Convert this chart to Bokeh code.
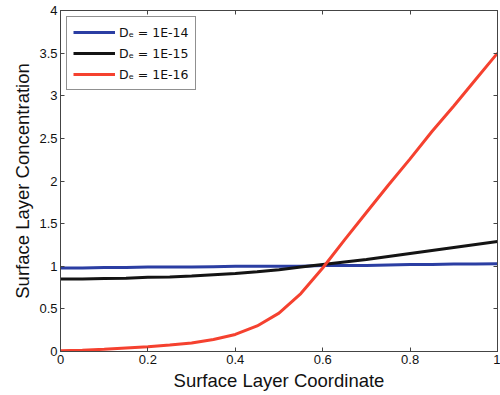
from bokeh.plotting import figure
from bokeh.models import LinearAxis, Range1d, FixedTicker, Legend, LegendItem, CustomJSTickFormatter
from bokeh.embed import file_html
from bokeh.resources import INLINE

x_vals = [0.0, 0.05, 0.1, 0.15, 0.2, 0.25, 0.3, 0.35, 0.4, 0.45, 0.5, 0.55, 0.6,
          0.65, 0.7, 0.75, 0.8, 0.85, 0.9, 0.95, 1.0]
de14 = [0.98, 0.98, 0.985, 0.985, 0.99, 0.99, 0.99, 0.995, 1.0, 1.0, 1.0, 1.0, 1.01,
        1.01, 1.01, 1.015, 1.02, 1.02, 1.025, 1.025, 1.03]
de15 = [0.85, 0.85, 0.855, 0.86, 0.87, 0.875, 0.885, 0.9, 0.915, 0.935, 0.96, 0.99, 1.02,
        1.05, 1.08, 1.115, 1.15, 1.185, 1.22, 1.255, 1.29]
de16 = [0.01, 0.015, 0.025, 0.04, 0.055, 0.075, 0.1, 0.14, 0.2, 0.3, 0.45, 0.68, 0.98,
        1.31, 1.63, 1.95, 2.26, 2.58, 2.88, 3.19, 3.5]
labels = ["Dₑ = 1E-14", "Dₑ = 1E-15", "Dₑ = 1E-16"]
colors = ["#2b3ea3", "#141414", "#f5412f"]
x_ticks = [0, 0.2, 0.4, 0.6, 0.8, 1]
x_tick_labels = ["0", "0.2", "0.4", "0.6", "0.8", "1"]
y_ticks = [0, 0.5, 1, 1.5, 2, 2.5, 3, 3.5, 4]
y_tick_labels = ["0", "0.5", "1", "1.5", "2", "2.5", "3", "3.5", "4"]

FONT = "Liberation Sans"

p = figure(width=500, height=395, output_backend="svg", toolbar_location=None,
           x_range=Range1d(0, 1), y_range=Range1d(0, 4),
           min_border_left=60, min_border_right=3, min_border_top=10, min_border_bottom=44)
p.background_fill_color = "white"
p.border_fill_color = "white"
p.outline_line_color = "#444444"
p.outline_line_width = 1
p.xgrid.visible = False
p.ygrid.visible = False

p.xaxis.axis_label = "Surface Layer Coordinate"
p.yaxis.axis_label = "Surface Layer Concentration"
for ax, ticks, tl in ((p.xaxis[0], x_ticks, x_tick_labels), (p.yaxis[0], y_ticks, y_tick_labels)):
    ax.ticker = FixedTicker(ticks=ticks)
    ax.major_label_overrides = {t: l for t, l in zip(ticks, tl)}
    ax.major_tick_in = 4
    ax.major_tick_out = 0
    ax.minor_tick_line_color = None
    ax.axis_line_color = "#444444"
    ax.major_tick_line_color = "#444444"
    ax.major_label_text_font = FONT
    ax.major_label_text_font_size = "13px"
    ax.major_label_text_color = "#111111"
    ax.axis_label_text_font = FONT
    ax.axis_label_text_font_size = "18.5px"
    ax.axis_label_text_font_style = "normal"
    ax.axis_label_text_color = "#111111"
    ax.major_label_standoff = 3
    ax.axis_label_standoff = 3

for loc, ticks in (("right", y_ticks), ("above", x_ticks)):
    ax = LinearAxis(ticker=FixedTicker(ticks=ticks),
                    formatter=CustomJSTickFormatter(code="return ''"))
    ax.major_tick_in = 4
    ax.major_tick_out = 0
    ax.minor_tick_line_color = None
    ax.axis_line_color = "#444444"
    ax.major_tick_line_color = "#444444"
    ax.major_label_standoff = 0
    p.add_layout(ax, loc)

items = []
for ys, lab, c in zip([de14, de15, de16], labels, colors):
    r = p.line(x_vals, ys, line_color=c, line_width=3)
    items.append(LegendItem(label=lab, renderers=[r]))

legend = Legend(items=items, location="top_left")
legend.border_line_color = "#222222"
legend.border_line_width = 1
legend.label_text_font = "DejaVu Sans"
legend.label_text_font_size = "12.5px"
legend.label_text_color = "#111111"
legend.glyph_width = 42
legend.glyph_height = 18
legend.spacing = 3
legend.padding = 6
legend.margin = 6
legend.label_standoff = 4
p.add_layout(legend)

open("out.html", "w").write(file_html(p, INLINE))
